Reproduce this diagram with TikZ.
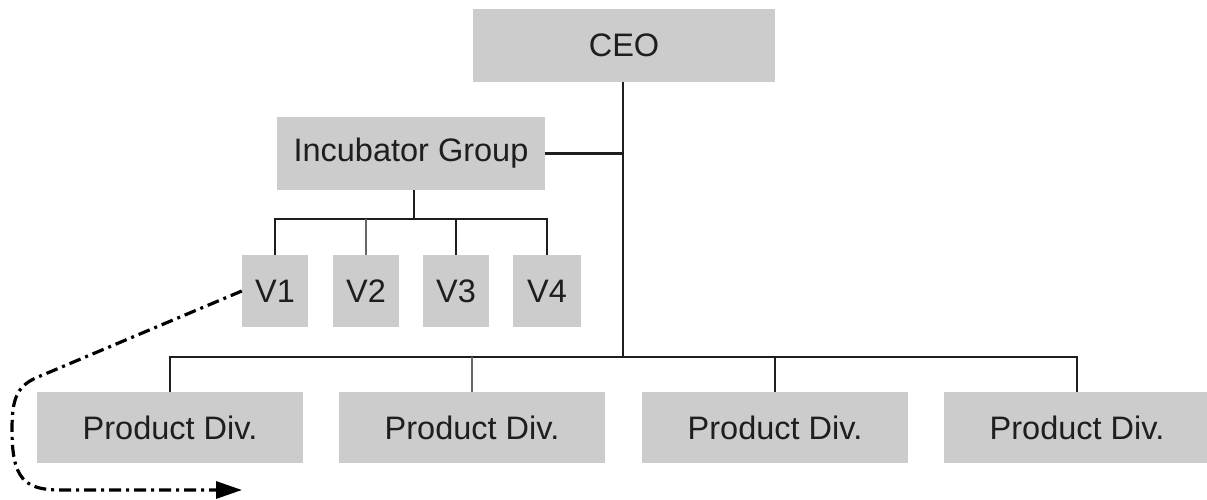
\documentclass[tikz,border=0pt]{standalone}
\usepackage{fontspec}
\setmainfont{Liberation Sans}
\usetikzlibrary{arrows.meta}
\definecolor{boxgray}{HTML}{CCCCCC}
\definecolor{inkgray}{HTML}{1E1E1E}
\begin{document}
\begin{tikzpicture}[x=1pt,y=-1pt,
  unit/.style={fill=boxgray, draw=none, inner sep=0pt, text=inkgray,
    font=\fontsize{32.5}{38}\selectfont, minimum height=72pt},
  conn/.style={draw=inkgray, line width=2.4pt},
  thinconn/.style={draw=black!60, line width=1.6pt},
  flow/.style={draw=black, line width=3.2pt, dash pattern=on 12pt off 5pt on 3pt off 5pt,
    -{Triangle[length=26pt,width=17pt]}}]
\useasboundingbox (0,0) rectangle (1207,500);

% boxes
\node[unit, minimum width=302pt, minimum height=73pt] (ceo) at (624,45.5) {CEO};
\node[unit, minimum width=268pt, minimum height=73pt] (inc) at (411,153.5) {Incubator Group};
\node[unit, minimum width=66pt] (v1) at (275,291) {V1};
\node[unit, minimum width=66pt] (v2) at (366,291) {V2};
\node[unit, minimum width=66pt] (v3) at (456,291) {V3};
\node[unit, minimum width=68pt] (v4) at (547,291) {V4};
\node[unit, minimum width=266pt, minimum height=71pt] (p1) at (170,427.5) {Product Div.};
\node[unit, minimum width=266pt, minimum height=71pt] (p2) at (472,427.5) {Product Div.};
\node[unit, minimum width=266pt, minimum height=71pt] (p3) at (775,427.5) {Product Div.};
\node[unit, minimum width=266pt, minimum height=71pt] (p4) at (1077,427.5) {Product Div.};

% bus junctions
\coordinate (vbus) at (414,219);
\coordinate (pbus) at (623,357);

% CEO spine and incubator branch
\draw[conn] (ceo.south -| pbus) -- (pbus);
\draw[conn] (inc.east) -- (inc.east -| pbus);

% ventures under the incubator
\draw[conn] (inc.south -| vbus) -- (vbus);
\draw[conn] (v1.north) -- (v1.north |- vbus) -- (v4.north |- vbus) -- (v4.north);
\draw[thinconn] (v2.north) -- (v2.north |- vbus);
\draw[conn] (v3.north) -- (v3.north |- vbus);

% product divisions
\draw[conn] (p1.north) -- (p1.north |- pbus) -- (p4.north |- pbus) -- (p4.north);
\draw[thinconn] (p2.north) -- (p2.north |- pbus);
\draw[conn] (p3.north) -- (p3.north |- pbus);

% venture moving into a product division
\coordinate (flowend) at (242,490);
\draw[flow] (v1.west) -- (38,377) .. controls (16,386) and (12,400) .. (12,430)
  .. controls (12,478) and (24,490) .. (60,490) -- (flowend);
\end{tikzpicture}
\end{document}
